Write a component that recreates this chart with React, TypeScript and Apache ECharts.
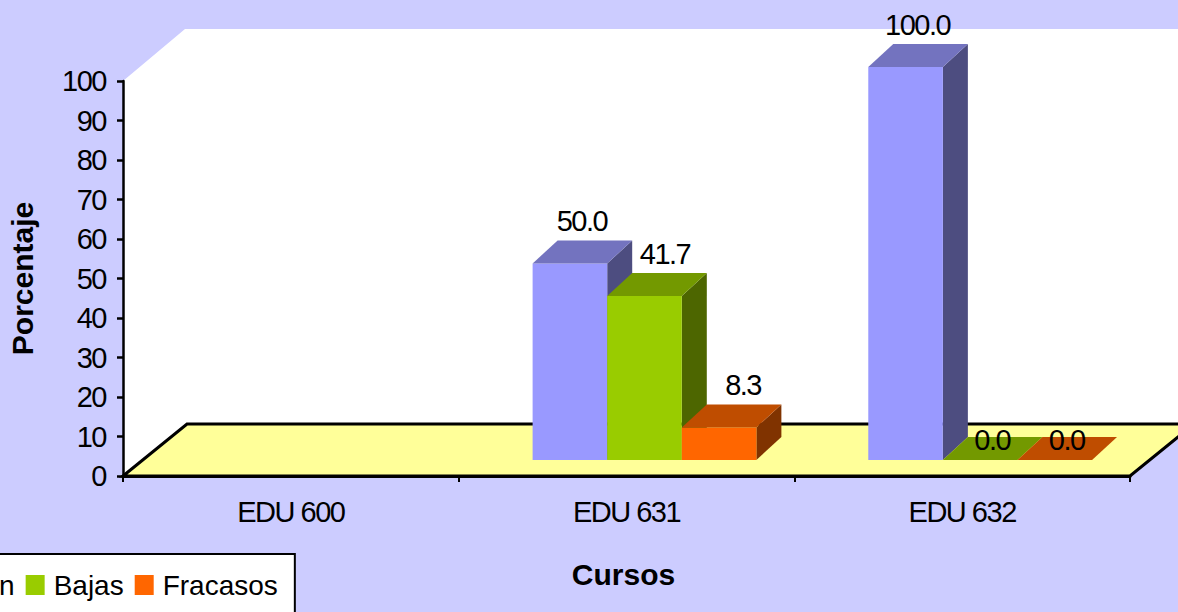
import React, { useEffect, useRef } from "react";
import * as echarts from "echarts";

const categories = ["EDU 600", "EDU 631", "EDU 632"];
const aprobacion = [null, 50.0, 100.0];
const bajas = [null, 41.7, 0.0];
const fracasos = [null, 8.3, 0.0];
const yTicks = { min: 0, max: 100, interval: 10 };

const FONT = "Liberation Sans";
const DEPTH_X = 25;
const DEPTH_Y = 23;
const BASE_LIFT = 16;
const FLOOR_X = 64;
const FLOOR_Y = 52;

function barSeries(name: string, values: (number | null)[], idx: number, front: string, top: string, side: string, nudge: number) {
  return {
    type: "custom",
    name,
    z: 3,
    itemStyle: { color: front },
    encode: { x: 0, y: 1 },
    data: categories.map((_, i) => [i, values[i]]),
    renderItem: (_: any, api: any) => {
      const v = api.value(1);
      if (v === null || isNaN(v)) return null;
      const cat = api.value(0);
      const zero = api.coord([cat, 0]);
      const pt = api.coord([cat, v]);
      const w = api.size([1, 0])[0] / 4.5;
      const x0 = zero[0] + 18 - (3 * w) / 2 + idx * w;
      const x1 = x0 + w;
      const yb = zero[1] - BASE_LIFT;
      const yt = yb - (zero[1] - pt[1]) * 0.995;
      const children: any[] = [];
      if (v > 0) {
        children.push({ type: "polygon", shape: { points: [[x1, yt], [x1 + DEPTH_X, yt - DEPTH_Y], [x1 + DEPTH_X, yb - DEPTH_Y], [x1, yb]] }, style: { fill: side } });
        children.push({ type: "rect", shape: { x: x0, y: yt, width: w, height: yb - yt }, style: { fill: front } });
      }
      children.push({ type: "polygon", shape: { points: [[x0, yt], [x0 + DEPTH_X, yt - DEPTH_Y], [x1 + DEPTH_X, yt - DEPTH_Y], [x1, yt]] }, style: { fill: top } });
      children.push({
        type: "text",
        z2: 10,
        style: {
          text: v.toFixed(1),
          x: x0 + w / 2 + 12 + (v > 0 ? nudge : 0),
          y: v === 0 ? yt - DEPTH_Y + 3 : yt - DEPTH_Y - 19,
          align: "center",
          verticalAlign: "middle",
          font: `29px "${FONT}"`,
          fill: "#000",
        },
      });
      return { type: "group", children };
    },
  };
}

const css = `
.chart3d text { letter-spacing: -1.5px; }
.chart3d text[style*="bold"], .chart3d text[style*="28px"] { letter-spacing: 0; }
`;

export default function App() {
  const ref = useRef<HTMLDivElement>(null);
  useEffect(() => {
    const chart = echarts.init(ref.current!, null, { renderer: "svg" });
    chart.setOption({
      animation: false,
      backgroundColor: "#CCCCFF",
      grid: { left: 123, right: 48, top: 81, bottom: 136, outerBoundsMode: "none" },
      legend: {
        data: ["Aprobación", "Bajas", "Fracasos"],
        orient: "horizontal",
        left: -171,
        top: 554,
        padding: [17, 17, 24, 16],
        backgroundColor: "#fff",
        borderColor: "#000",
        borderWidth: 2,
        itemWidth: 19,
        itemHeight: 20,
        itemGap: 11,
        icon: "rect",
        selectedMode: false,
        textStyle: { fontFamily: FONT, fontSize: 28, color: "#000", padding: [0, 0, 0, 4] },
      },
      xAxis: {
        type: "category",
        data: categories,
        z: 6,
        name: "Cursos",
        nameLocation: "middle",
        nameGap: 83,
        nameTextStyle: { fontFamily: FONT, fontSize: 30, fontWeight: "bold", color: "#000", padding: [0, 6, 0, 0] },
        axisLine: { lineStyle: { color: "#000", width: 3 } },
        axisTick: { show: true, length: 6, lineStyle: { color: "#000", width: 2 } },
        axisLabel: { fontFamily: FONT, fontSize: 29, color: "#000", margin: 21 },
        splitLine: { show: false },
      },
      yAxis: {
        type: "value",
        min: yTicks.min,
        max: yTicks.max,
        interval: yTicks.interval,
        z: 6,
        name: "Porcentaje",
        nameLocation: "middle",
        nameGap: 86,
        nameTextStyle: { fontFamily: FONT, fontSize: 30, fontWeight: "bold", color: "#000" },
        axisLine: { show: true, onZero: false, lineStyle: { color: "#000", width: 2.5 } },
        axisTick: { show: true, length: 6, lineStyle: { color: "#000", width: 2.5 } },
        axisLabel: { fontFamily: FONT, fontSize: 29, color: "#000", margin: 17, padding: [2, 0, 0, 0] },
        splitLine: { show: false },
      },
      series: [
        {
          type: "custom",
          name: "Plano",
          z: 1,
          silent: true,
          encode: { x: 0, y: 1 },
          data: [[0, 0]],
          renderItem: (params: any) => {
            const { x, y, width, height } = params.coordSys;
            const x1 = x + width;
            const y0 = y + height;
            return {
              type: "group",
              children: [
                {
                  type: "polygon",
                  shape: { points: [[x, y], [x + 62, y - FLOOR_Y], [x1 + FLOOR_X, y - FLOOR_Y], [x1 + FLOOR_X, y0 - FLOOR_Y], [x + FLOOR_X, y0 - FLOOR_Y], [x, y0]] },
                  style: { fill: "#fff" },
                },
                {
                  type: "polygon",
                  shape: { points: [[x, y0], [x + FLOOR_X, y0 - FLOOR_Y], [x1 + FLOOR_X, y0 - FLOOR_Y], [x1, y0]] },
                  style: { fill: "#FFFF99", stroke: "#000", lineWidth: 3 },
                },
              ],
            };
          },
        },
        barSeries("Aprobación", aprobacion, 0, "#9999FF", "#7373BF", "#4D4D80", 0),
        barSeries("Bajas", bajas, 1, "#99CC00", "#739900", "#4D6600", 8.5),
        barSeries("Fracasos", fracasos, 2, "#FF6600", "#BF4D00", "#803300", 12),
      ],
    });
    return () => chart.dispose();
  }, []);
  return (
    <>
      <style>{css}</style>
      <div ref={ref} className="chart3d" style={{ position: "fixed", left: 0, top: 0, width: 1178, height: 612 }} />
    </>
  );
}
